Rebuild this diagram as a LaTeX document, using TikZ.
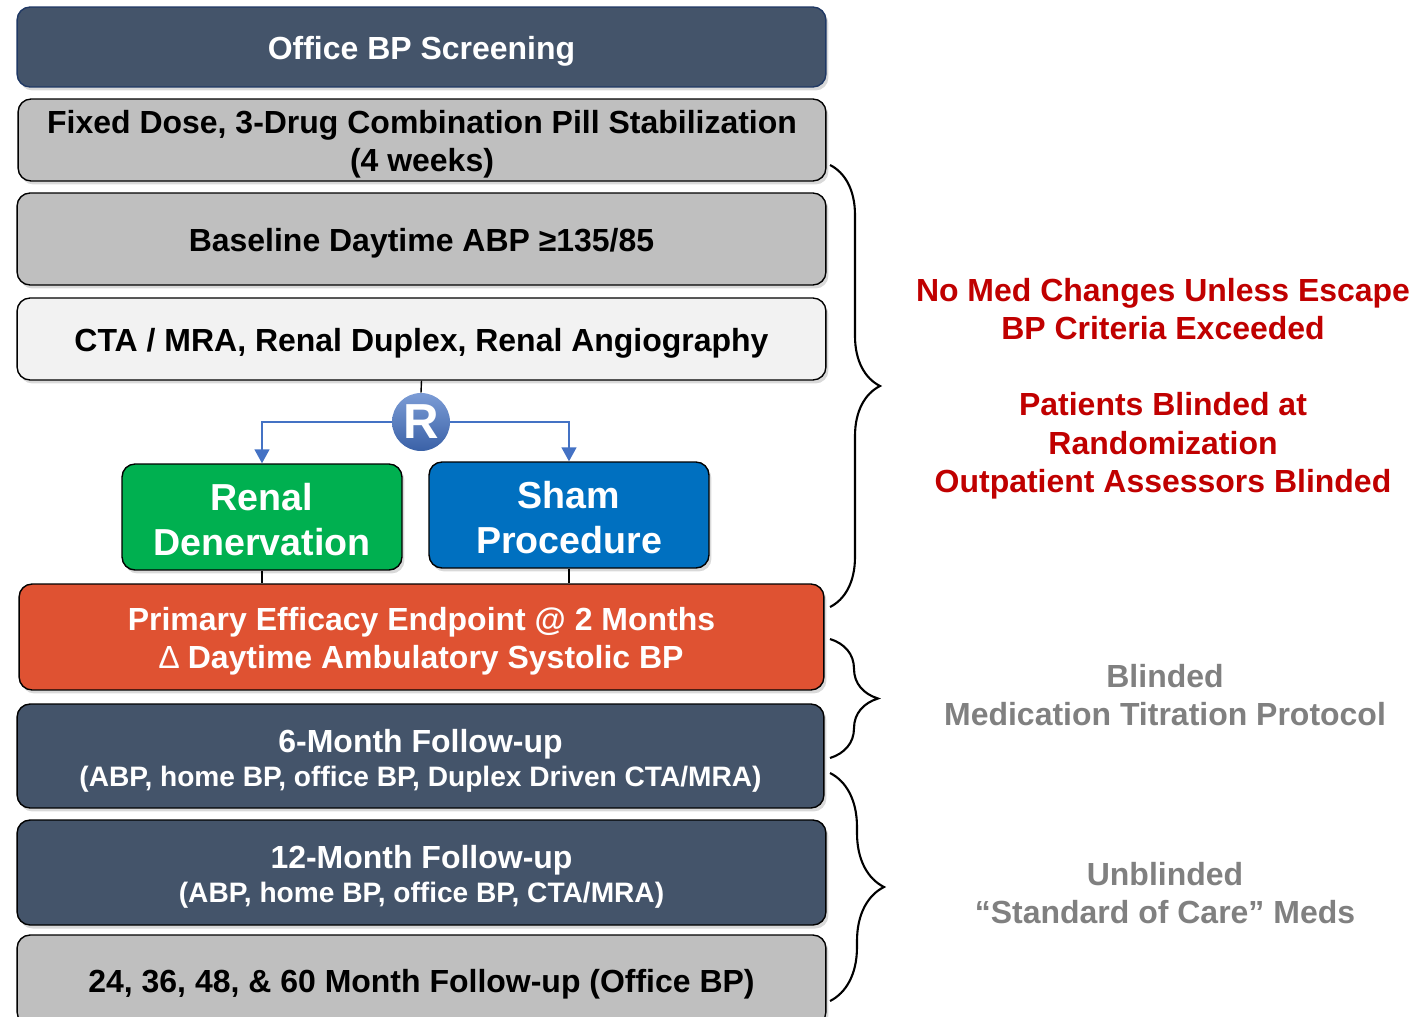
\documentclass[tikz,border=0pt]{standalone}
\usepackage{fontspec}
\setmainfont{Liberation Sans}
\usetikzlibrary{positioning,shadows,arrows.meta,decorations.pathreplacing}

\definecolor{slate}{HTML}{44546A}
\definecolor{navy}{HTML}{1F3864}
\definecolor{midgray}{HTML}{BFBFBF}
\definecolor{lightgray}{HTML}{F2F2F2}
\definecolor{rdngreen}{HTML}{00B050}
\definecolor{shamblue}{HTML}{0070C0}
\definecolor{endpoint}{HTML}{DF5232}
\definecolor{randblue}{HTML}{4472C4}
\definecolor{notered}{HTML}{C00000}
\definecolor{notegray}{HTML}{808080}

% invisible strut that pushes the first line of a box down a little
\newcommand\lift[1]{\rule{0pt}{#1}}

\begin{document}
\begin{tikzpicture}[x=0.02cm, y=-0.02cm,
      every node/.style = {align=center, font=\bfseries\fontsize{18.2}{21.8}\selectfont},
      stage/.style = {shape=rectangle, rounded corners=0.26cm, draw=black,
        line width=0.8pt, minimum width=16.18cm, inner sep=0pt,
        drop shadow={shadow xshift=0.05cm, shadow yshift=-0.07cm, opacity=0.3}},
      arm/.style = {stage, minimum width=5.6cm, minimum height=2.12cm, text=white,
        font=\bfseries\fontsize{21.4}{25.6}\selectfont},
      curly/.style = {decorate, decoration={brace, amplitude=#1}, line width=1.2pt},
      rarrow/.style = {draw=randblue, line width=1.1pt, -{Triangle[width=8.5pt,length=8pt]}},
      link/.style = {draw=black, line width=0.8pt}]
    \useasboundingbox (0,0) rectangle (1426,1017);

    % study flow
    \node[stage, fill=slate, draw=navy, text=white, minimum height=1.6cm] (screen) at (421.5,47)
      {\lift{0.98em}Office BP Screening};
    \node[stage, fill=midgray, minimum width=16.16cm, minimum height=1.64cm] (fixed) at (422,140)
      {\lift{0.98em}Fixed Dose, 3-Drug Combination Pill Stabilization\\(4 weeks)};
    \node[stage, fill=midgray, minimum height=1.84cm] (baseline) at (421.5,239)
      {\lift{0.98em}Baseline Daytime ABP ≥135/85};
    \node[stage, fill=lightgray, minimum height=1.64cm] (imaging) at (421.5,339)
      {\lift{0.98em}CTA / MRA, Renal Duplex, Renal Angiography};
    \node[circle, top color=randblue!70!white, bottom color=randblue!85!black,
      minimum size=1.16cm, inner sep=0pt, text=white, font=\bfseries\fontsize{28}{28}\selectfont] (rand) at (421,422) {R};
    \node[arm, fill=rdngreen] (rdn) at (262,517) {\lift{0.84em}Renal\\Denervation};
    \node[arm, fill=shamblue] (sham) at (569,515) {\lift{0.84em}Sham\\Procedure};
    \node[stage, fill=endpoint, text=white, minimum width=16.1cm, minimum height=2.12cm] (primary) at (421.5,637)
      {\lift{0.98em}Primary Efficacy Endpoint @ 2 Months\\{\mdseries ∆} Daytime Ambulatory Systolic BP};
    \node[stage, fill=slate, text=white, minimum width=16.14cm, minimum height=2.08cm] (six) at (420.5,756)
      {\lift{1.03em}6-Month Follow-up\\[-2pt]{\fontsize{16}{19}\selectfont (ABP, home BP, office BP, Duplex Driven CTA/MRA)}};
    \node[stage, fill=slate, text=white, minimum height=2.1cm] (twelve) at (421.5,872.5)
      {\lift{1em}12-Month Follow-up\\[-2pt]{\fontsize{16}{19}\selectfont (ABP, home BP, office BP, CTA/MRA)}};
    \node[stage, fill=midgray, minimum height=1.8cm] (later) at (421.5,980)
      {\lift{0.98em}24, 36, 48, \& 60 Month Follow-up (Office BP)};

    % randomisation
    \draw[link] (imaging.south) -- (rand.north);
    \draw[rarrow] (rand.west) -| (rdn.north);
    \draw[rarrow] (rand.east) -| (sham.north);
    \draw[link] (rdn.south) -- (rdn.south |- primary.north);
    \draw[link] (sham.south) -- (sham.south |- primary.north);

    % braces
    \coordinate (b1top) at (830,165);
    \coordinate (b1bot) at (830,607);
    \coordinate (b2top) at (830,639);
    \coordinate (b2bot) at (830,758);
    \coordinate (b3top) at (830,773);
    \coordinate (b3bot) at (830,1001);
    \draw[curly=1cm] (b1top) -- (b1bot);
    \draw[curly=0.96cm] (b2top) -- (b2bot);
    \draw[curly=1.08cm] (b3top) -- (b3bot);

    % notes
    \node[text=notered] (escape) at (1163,309) {No Med Changes Unless Escape\\BP Criteria Exceeded};
    \node[text=notered] (blinding) at (1163,446) {Patients Blinded at\\Randomization\\Outpatient Assessors Blinded};
    \node[text=notegray] (titration) at (1165,695) {Blinded\\Medication Titration Protocol};
    \node[text=notegray] (soc) at (1165,893) {Unblinded\\“Standard of Care” Meds};
\end{tikzpicture}
\end{document}
